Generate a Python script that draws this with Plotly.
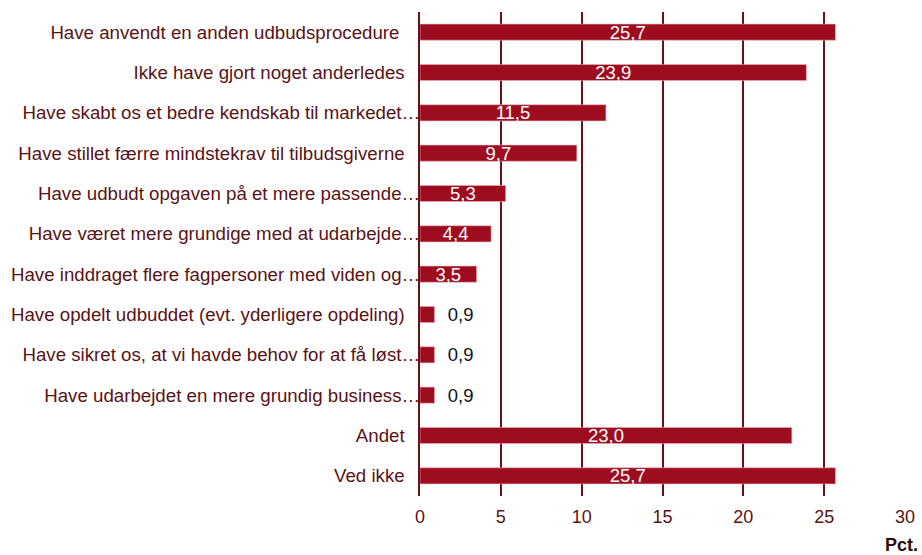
import plotly.graph_objects as go

categories = [
    "Have anvendt en anden udbudsprocedure ",
    "Ikke have gjort noget anderledes",
    "Have skabt os et bedre kendskab til markedet…",
    "Have stillet færre mindstekrav til tilbudsgiverne",
    "Have udbudt opgaven på et mere passende…",
    "Have været mere grundige med at udarbejde…",
    "Have inddraget flere fagpersoner med viden og…",
    "Have opdelt udbuddet (evt. yderligere opdeling)",
    "Have sikret os, at vi havde behov for at få løst…",
    "Have udarbejdet en mere grundig business…",
    "Andet",
    "Ved ikke",
]
values = [25.7, 23.9, 11.5, 9.7, 5.3, 4.4, 3.5, 0.9, 0.9, 0.9, 23.0, 25.7]
x_ticks = [0, 5, 10, 15, 20, 25, 30]

BAR = "#9e0d1f"
TXT = "#5a1216"
GRID = "#6e0f18"
FONT = "Liberation Sans, Arial, sans-serif"
NB = "\u00a0"


def tick_label(c):
    # truncated labels run right up to the axis; others keep a gap
    if c.endswith("…"):
        return c
    trail = len(c) - len(c.rstrip(" "))
    return c.rstrip(" ") + NB * (3 + trail)


ticktext = [tick_label(c) for c in categories]

small = [v < 2 for v in values]
positions = ["outside" if s else "inside" for s in small]
text_colors = ["#111111" if s else "white" for s in small]
templates = [NB * 2 + "%{x:.1f}" if s else "%{x:.1f}" for s in small]

fig = go.Figure(
    go.Bar(
        x=values,
        y=categories,
        orientation="h",
        width=0.4,
        marker=dict(color=BAR, line=dict(color="#e8b4bb", width=0.6)),
        texttemplate=templates,
        textposition=positions,
        insidetextanchor="middle",
        constraintext="none",
        textfont=dict(color=text_colors, size=18.5, family=FONT),
        cliponaxis=False,
    )
)

fig.update_layout(
    width=922,
    height=555,
    margin=dict(l=420, r=17, t=12, b=59),
    plot_bgcolor="white",
    paper_bgcolor="white",
    separators=",.",
    showlegend=False,
    font=dict(family=FONT, size=18.7, color=TXT),
    xaxis=dict(
        range=[0, 30],
        tickvals=x_ticks,
        showgrid=True,
        gridcolor=GRID,
        gridwidth=2,
        zeroline=False,
        showline=False,
        ticks="",
        tickfont=dict(size=18, color=TXT),
        ticklabelstandoff=8,
        automargin=False,
        fixedrange=True,
    ),
    yaxis=dict(
        categoryorder="array",
        categoryarray=categories[::-1],
        tickmode="array",
        tickvals=categories,
        ticktext=ticktext,
        range=[-0.5, 11.5],
        showgrid=False,
        showline=True,
        linecolor=GRID,
        linewidth=2,
        ticks="",
        ticklen=0,
        tickfont=dict(size=18.7, color=TXT),
        ticklabelstandoff=-6,
        automargin=False,
        fixedrange=True,
    ),
    annotations=[
        dict(
            text="<b>Pct.</b>",
            xref="paper",
            yref="paper",
            x=1.0,
            y=-0.102,
            xanchor="right",
            yanchor="middle",
            xshift=15,
            showarrow=False,
            font=dict(size=18, color="#2a0a0c"),
        )
    ],
)

fig.write_html(
    "out.html",
    config={"displayModeBar": False},
    post_script="document.body.style.margin='0';document.body.style.padding='0';",
)
